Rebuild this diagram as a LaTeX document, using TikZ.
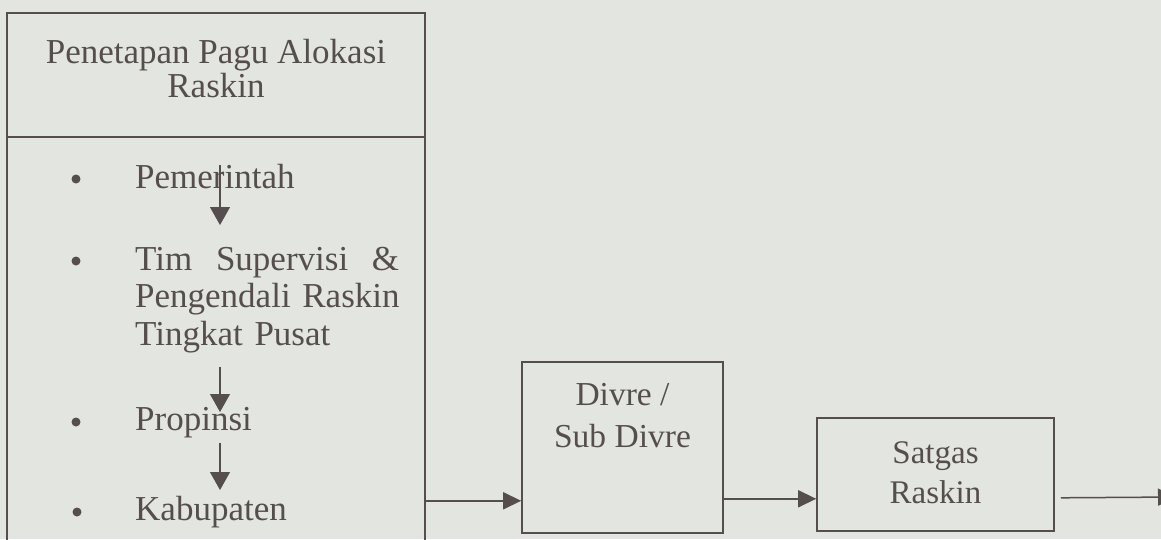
\documentclass[tikz,border=0pt]{standalone}
\usepackage{fontspec}
\setmainfont{Liberation Serif}
\usetikzlibrary{arrows.meta,positioning,calc}
\definecolor{paper}{RGB}{226,229,224}
\definecolor{ink}{RGB}{86,78,78}
\tikzset{
  box/.style={draw=ink,line width=1.6pt,rectangle,inner sep=0pt},
  txt/.style={text=ink,inner sep=0pt,font=\fontsize{35}{34}\selectfont},
  dot/.style={circle,fill=ink,inner sep=0pt,minimum size=9pt},
  harr/.style={draw=ink,line width=1.5pt,-{Triangle[length=18pt,width=17pt]}},
  varr/.style={draw=ink,line width=1.2pt,-{Triangle[length=18pt,width=20pt]}}
}

\begin{document}
\begin{tikzpicture}[x=1pt,y=-1pt]
  \fill[paper] (0,0) rectangle (1161,539);
  \useasboundingbox (0,0) rectangle (1161,539);

  % Left box: header and list
  \node[box, minimum width=418pt, minimum height=124pt] (pagu) at (216,75) {};
  \node[box, minimum width=418pt, minimum height=408pt] (tingkat) at (216,341) {};
  \node[txt, align=center, anchor=base] (paguTxt) at (216,97) {Penetapan Pagu Alokasi\\Raskin};

  % List items
  \node[dot] (b1) at (76,179) {};
  \node[txt, anchor=base west] (pem) at (135,188) {Pemerintah};
  \node[dot] (b2) at (76,261) {};
  \node[txt, anchor=base west, text width=290pt, align=left, font=\fontsize{35}{37.5}\selectfont] (tim) at (135,270) {\hbox to 264pt{Tim\hfill Supervisi\hfill \&}\\Pengendali Raskin\\Tingkat Pusat};
  \node[dot] (b3) at (76,422) {};
  \node[txt, anchor=base west] (prop) at (135,430) {Propinsi};
  \node[dot] (b4) at (77,512) {};
  \node[txt, anchor=base west] (kab) at (135,520) {Kabupaten};

  % Down arrows between levels
  \coordinate (ax) at (220,0);
  \draw[varr] ([yshift=23pt]pem.base -| ax) -- ([yshift=-37pt]pem.base -| ax);
  \draw[varr] ([yshift=63pt]prop.base -| ax) -- ([yshift=18pt]prop.base -| ax);
  \draw[varr] ([yshift=77pt]kab.base -| ax) -- ([yshift=30pt]kab.base -| ax);

  % Divre and Satgas
  \node[box, minimum width=201pt, minimum height=171pt] (divre) at (622.5,447.5) {};
  \node[txt, align=center, anchor=base, font=\fontsize{33.5}{42}\selectfont] (divreTxt) at (622.5,447) {Divre /\\Sub Divre};
  \node[box, minimum width=237pt, minimum height=113pt] (satgas) at (935.5,474.5) {};
  \node[txt, align=center, anchor=base, font=\fontsize{33}{40}\selectfont] (satgasTxt) at (935.5,503) {Satgas\\Raskin};
  \coordinate (keluar) at (1176,497);

  % Flow
  \draw[harr] ([yshift=33pt]divre.south west -| tingkat.east) -- ([yshift=33pt]divre.south west);
  \draw[harr] ([yshift=35pt]divre.south east) -- ([yshift=35pt]divre.south east -| satgas.west);
  \draw[harr] ([xshift=6pt,yshift=34pt]satgas.south east) -- (keluar);
\end{tikzpicture}
\end{document}
